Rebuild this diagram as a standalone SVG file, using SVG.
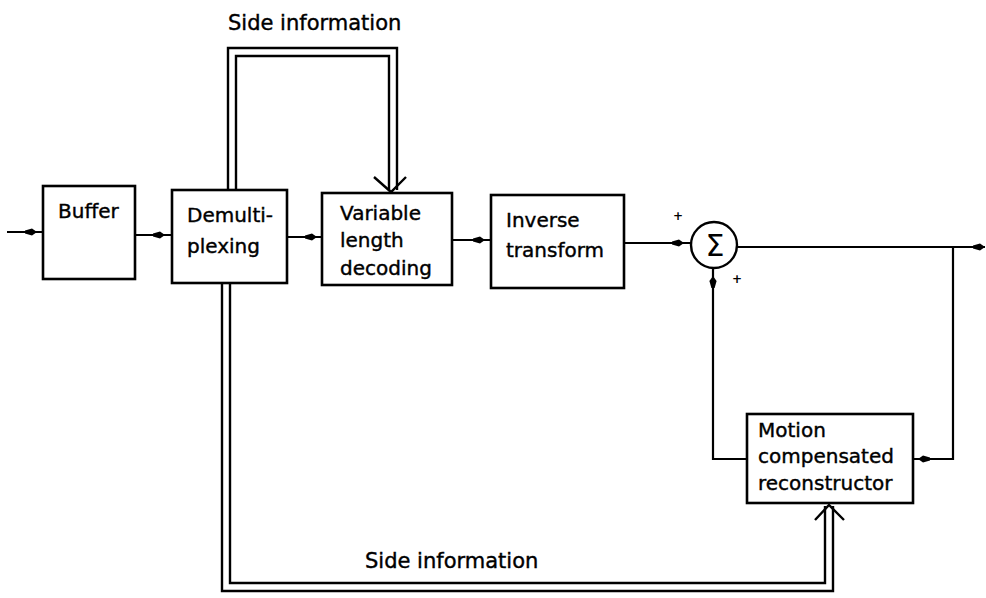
<svg xmlns="http://www.w3.org/2000/svg" width="986" height="598" viewBox="0 0 986 598">
<defs>
<style>
.box{fill:#fff;stroke:#000;stroke-width:2.6}
.ln{fill:none;stroke:#000;stroke-width:2.2}
.dl{fill:none;stroke:#000;stroke-width:2.4}
.t{font-family:"DejaVu Sans",sans-serif;font-size:20px;fill:#000;stroke:#000;stroke-width:0.4}
.lb{font-size:21px}
.pl{font-family:"DejaVu Sans",sans-serif;font-size:12px;font-weight:bold;fill:#000}
</style>
<path id="ah" d="M0,0 L-5,-3.6 L-12,-1.6 L-12,1.6 L-5,3.6 Z" fill="#000"/>
</defs>
<rect width="986" height="598" fill="#fff"/>
<g id="connectors">
<line class="ln" x1="7" y1="232" x2="43" y2="232"/>
<use href="#ah" x="37" y="232"/>
<line class="ln" x1="135" y1="235" x2="172" y2="235"/>
<use href="#ah" x="165" y="235"/>
<line class="ln" x1="287" y1="237" x2="322" y2="237"/>
<use href="#ah" x="317" y="237"/>
<line class="ln" x1="452" y1="240" x2="491" y2="240"/>
<use href="#ah" x="485" y="240"/>
<line class="ln" x1="624" y1="243" x2="691" y2="243"/>
<use href="#ah" x="684" y="243"/>
<line class="ln" x1="737" y1="247" x2="985" y2="247"/>
<use href="#ah" x="985" y="247"/>
<polyline class="ln" points="953,247 953,459 913,459"/>
<use href="#ah" transform="translate(918,459) rotate(180)"/>
<polyline class="ln" points="747,459 713,459 713,268"/>
<use href="#ah" transform="translate(713,276) rotate(-90)"/>
<path class="dl" d="M228,190 V48 H397 V190"/>
<path class="dl" d="M236,190 V56 H389 V190"/>
<path class="dl" d="M374,177 L391,192 L406,177"/>
<path class="dl" d="M222,283 V591 H833 V506"/>
<path class="dl" d="M230,283 V583 H825 V506"/>
<path class="dl" d="M815,520 L829,505 L844,520"/>
</g>
<g id="buffer">
<rect class="box" x="43" y="186" width="92" height="93"/>
<text class="t" x="58" y="218">Buffer</text>
</g>
<g id="demux">
<rect class="box" x="172" y="190" width="115" height="93"/>
<text class="t" x="187" y="222">Demulti-</text>
<text class="t" x="187" y="253">plexing</text>
</g>
<g id="vld">
<rect class="box" x="322" y="193" width="130" height="92"/>
<text class="t" x="340" y="220">Variable</text>
<text class="t" x="340" y="247">length</text>
<text class="t" x="340" y="275">decoding</text>
</g>
<g id="inverse">
<rect class="box" x="491" y="195" width="133" height="93"/>
<text class="t" x="506" y="227">Inverse</text>
<text class="t" x="506" y="257">transform</text>
</g>
<g id="sum">
<circle cx="714" cy="245" r="23" fill="#fff" stroke="#000" stroke-width="2.4"/>
<text x="715" y="256" text-anchor="middle" font-family="DejaVu Sans, sans-serif" font-size="30">Σ</text>
<text class="pl" x="678" y="220" text-anchor="middle">+</text>
<text class="pl" x="737" y="283" text-anchor="middle">+</text>
</g>
<g id="mc">
<rect class="box" x="747" y="414" width="166" height="89"/>
<text class="t" x="758" y="437">Motion</text>
<text class="t" x="758" y="463">compensated</text>
<text class="t" x="758" y="490">reconstructor</text>
</g>
<g id="labels">
<text class="t lb" x="228" y="30">Side information</text>
<text class="t lb" x="365" y="568">Side information</text>
</g>
</svg>
